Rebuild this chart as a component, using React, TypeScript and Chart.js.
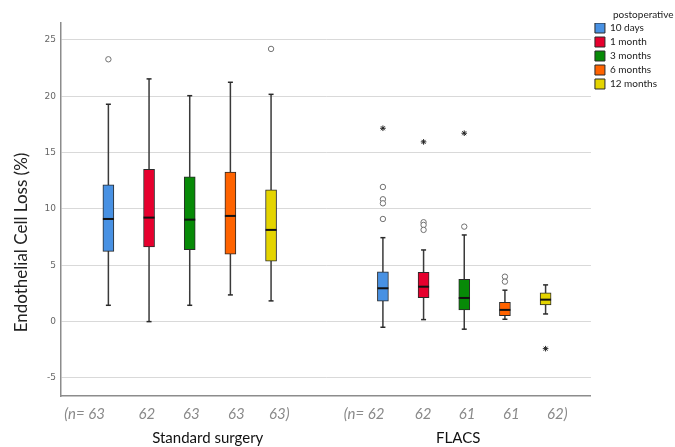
import { useEffect, useRef } from 'react';
import { Chart, registerables } from 'chart.js';

Chart.register(...registerables);

// ---- data ----
const timepoints = ['10 days', '1 month', '3 months', '6 months', '12 months'];
const groups = ['Standard surgery', 'FLACS'];
const yTicks = [-5, 0, 5, 10, 15, 20, 25];

const stdN = [63, 62, 63, 63, 63];
const stdMin = [1.45, 0.0, 1.45, 2.37, 1.84];
const stdQ1 = [6.24, 6.63, 6.39, 5.98, 5.36];
const stdMed = [9.11, 9.23, 9.05, 9.38, 8.14];
const stdQ3 = [12.13, 13.52, 12.84, 13.28, 11.69];
const stdMax = [19.29, 21.54, 20.05, 21.24, 20.17];
const stdOutliers = [[23.28], [], [], [], [24.2]];
const stdExtremes: number[][] = [[], [], [], [], []];

const flacsN = [62, 62, 61, 61, 62];
const flacsMin = [-0.5, 0.18, -0.67, 0.21, 0.68];
const flacsQ1 = [1.81, 2.13, 1.04, 0.53, 1.48];
const flacsMed = [2.96, 3.1, 2.1, 1.04, 1.95];
const flacsQ3 = [4.41, 4.38, 3.76, 1.72, 2.55];
const flacsMax = [7.45, 6.36, 7.69, 2.79, 3.26];
const flacsOutliers = [[11.95, 10.86, 10.5, 9.11], [8.82, 8.58, 8.14], [8.43], [3.99, 3.55], []];
const flacsExtremes = [[17.16], [15.95], [16.72], [], [-2.4]];

// ---- layout / style ----
const boxColors = ['#4891e3', '#e6002e', '#078a07', '#ff6300', '#e4d400'];
const groupStart = [1, 7.75];
const X_MIN = -0.165;
const X_MAX = 12.865;
const nTickPos = [0.414, 1.946, 3.037, 4.145, 5.204, 7.286, 8.739, 9.823, 10.906, 12.039];
const groupTickPos = [3.443, 9.601];

const groupsData = [
  { n: stdN, min: stdMin, q1: stdQ1, med: stdMed, q3: stdQ3, max: stdMax, out: stdOutliers, ext: stdExtremes },
  { n: flacsN, min: flacsMin, q1: flacsQ1, med: flacsMed, q3: flacsQ3, max: flacsMax, out: flacsOutliers, ext: flacsExtremes },
];

const nLabels: string[] = [];
groupsData.forEach((g) => {
  g.n.forEach((v, i) => {
    if (i === 0) nLabels.push('(n= ' + v);
    else if (i === g.n.length - 1) nLabels.push(v + ')');
    else nLabels.push(String(v));
  });
});

const xOf = (gi: number, i: number) => groupStart[gi] + i;

export default function App() {
  const ref = useRef<HTMLCanvasElement>(null);

  useEffect(() => {
    document.body.style.margin = '0';
    const canvas = ref.current;
    if (!canvas) return;

    const boxDatasets = timepoints.map((tp, i) => ({
      type: 'bar' as const,
      label: tp,
      data: groupsData.map((g, gi) => ({ x: xOf(gi, i), y: [g.q1[i], g.q3[i]] })),
      backgroundColor: boxColors[i],
      borderColor: '#2a2a2a',
      borderWidth: 1,
      borderSkipped: false,
      barThickness: 11,
      grouped: false,
      order: 2,
    }));

    const whiskerData: any[] = [];
    const capData: any[] = [];
    const medData: any[] = [];
    const outData: any[] = [];
    const extData: any[] = [];
    groupsData.forEach((g, gi) => {
      timepoints.forEach((_, i) => {
        const x = xOf(gi, i);
        whiskerData.push({ x, y: g.min[i] }, { x, y: g.max[i] }, { x, y: null });
        capData.push({ x, y: g.min[i] }, { x, y: g.max[i] });
        medData.push({ x, y: g.med[i] });
        g.out[i].forEach((v) => outData.push({ x, y: v }));
        g.ext[i].forEach((v) => extData.push({ x, y: v }));
      });
    });

    const datasets: any[] = [
      ...boxDatasets,
      {
        type: 'line',
        label: 'whiskers',
        data: whiskerData,
        borderColor: '#3a3a3a',
        borderWidth: 1.5,
        pointRadius: 0,
        spanGaps: false,
        fill: false,
        order: 3,
      },
      {
        type: 'scatter',
        label: 'caps',
        data: capData,
        pointStyle: 'line',
        pointRadius: 2.5,
        borderColor: '#2a2a2a',
        borderWidth: 1.5,
        order: 1,
      },
      {
        type: 'scatter',
        label: 'medians',
        data: medData,
        pointStyle: 'line',
        pointRadius: 5.5,
        borderColor: '#111111',
        borderWidth: 2,
        order: 1,
      },
      {
        type: 'scatter',
        label: 'outliers',
        data: outData,
        pointStyle: 'circle',
        pointRadius: 2.7,
        borderColor: '#707070',
        backgroundColor: '#ffffff',
        borderWidth: 1,
        order: 1,
      },
      {
        type: 'scatter',
        label: 'extremes',
        data: extData,
        pointStyle: 'star',
        pointRadius: 2.8,
        borderColor: '#222222',
        borderWidth: 1,
        order: 1,
      },
    ];

    const extraText = {
      id: 'extraText',
      afterDraw(chart: any) {
        const c = chart.ctx;
        const a = chart.chartArea;
        c.save();
        // y-axis title
        c.translate(a.left - 39, (a.top + a.bottom) / 2 + 33);
        c.rotate(-Math.PI / 2);
        c.font = '17px Lato';
        c.fillStyle = '#222';
        c.textAlign = 'center';
        c.textBaseline = 'middle';
        c.fillText('Endothelial Cell Loss (%)', 0, 0);
        c.restore();
        // legend title
        const lg = chart.legend;
        if (lg && lg.legendHitBoxes && lg.legendHitBoxes.length) {
          const hb = lg.legendHitBoxes[0];
          c.save();
          c.font = '10px Lato';
          c.fillStyle = '#222';
          c.textAlign = 'left';
          c.textBaseline = 'middle';
          c.fillText('postoperative', hb.left + 18, hb.top - 8);
          c.restore();
        }
      },
    };

    const chart = new Chart(canvas, {
      type: 'bar',
      data: { datasets },
      options: {
        responsive: false,
        animation: false,
        events: [],
        layout: { padding: { top: 23, left: 0, right: 8, bottom: 0 } },
        plugins: {
          tooltip: { enabled: false },
          legend: {
            position: 'right',
            align: 'start',
            title: { display: true, text: '', font: { size: 10 }, padding: { top: 0, bottom: -16 } },
            labels: {
              boxWidth: 10,
              boxHeight: 10,
              padding: 4,
              color: '#222',
              font: { family: 'Lato', size: 10 },
              filter: (item: any) => item.datasetIndex < timepoints.length,
            },
          },
        },
        scales: {
          x: {
            type: 'linear',
            position: 'bottom',
            min: X_MIN,
            max: X_MAX,
            offset: false,
            grid: { display: false, drawTicks: false },
            border: { display: true, color: '#8c8c8c', width: 1.5 },
            afterBuildTicks: (s: any) => {
              s.ticks = nTickPos.map((v) => ({ value: v }));
            },
            afterFit: (s: any) => {
              s.height = 30;
            },
            ticks: {
              autoSkip: false,
              maxRotation: 0,
              padding: 9.5,
              color: '#8a8a8a',
              font: { family: 'Lato', size: 15, style: 'italic' },
              callback: (_v: any, i: number) => nLabels[i],
            },
          },
          x2: {
            type: 'linear',
            position: 'bottom',
            min: X_MIN,
            max: X_MAX,
            offset: false,
            grid: { display: false, drawTicks: false },
            border: { display: false },
            afterBuildTicks: (s: any) => {
              s.ticks = groupTickPos.map((v) => ({ value: v }));
            },
            afterFit: (s: any) => {
              s.height = 21;
            },
            ticks: {
              autoSkip: false,
              maxRotation: 0,
              padding: 3,
              color: '#111',
              font: { family: 'Lato', size: 15 },
              callback: (_v: any, i: number) => groups[i],
            },
          },
          y: {
            type: 'linear',
            min: -6.6,
            max: 26.5,
            grid: { color: '#d9d9d9', lineWidth: 1, drawTicks: false },
            border: { display: true, color: '#8c8c8c', width: 1.5 },
            afterBuildTicks: (s: any) => {
              s.ticks = yTicks.map((v) => ({ value: v }));
            },
            afterFit: (s: any) => {
              s.width = 61;
            },
            ticks: {
              padding: 5,
              color: '#666',
              font: { family: 'DejaVu Sans', size: 9 },
            },
          },
        },
      } as any,
      plugins: [extraText],
    });

    return () => chart.destroy();
  }, []);

  return (
    <div style={{ width: 675, height: 447 }}>
      <canvas ref={ref} width={675} height={447} style={{ display: 'block' }} />
    </div>
  );
}
